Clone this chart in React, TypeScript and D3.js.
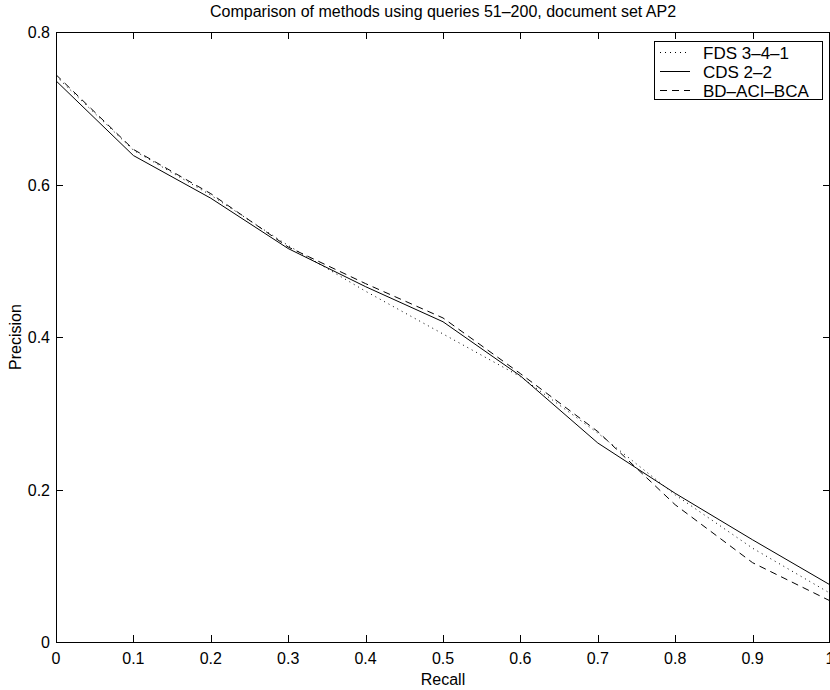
import React, {useEffect, useRef} from 'react'
import * as d3 from 'd3';

const recall = [0, 0.1, 0.2, 0.3, 0.4, 0.5, 0.6, 0.7, 0.8, 0.9, 1.0];
const fds = [0.742, 0.645, 0.586, 0.520, 0.460, 0.404, 0.348, 0.274, 0.193, 0.123, 0.064];
const cds = [0.736, 0.638, 0.582, 0.516, 0.466, 0.420, 0.349, 0.261, 0.195, 0.134, 0.075];
const bd = [0.744, 0.646, 0.588, 0.518, 0.470, 0.425, 0.352, 0.276, 0.180, 0.104, 0.054];
const seriesNames = ['FDS 3\u20134\u20131', 'CDS 2\u20132', 'BD\u2013ACI\u2013BCA'];
const xTicks = [0, 0.1, 0.2, 0.3, 0.4, 0.5, 0.6, 0.7, 0.8, 0.9, 1];
const yTicks = [0, 0.2, 0.4, 0.6, 0.8];

export default function App() {
  const svgRef = useRef<SVGSVGElement>(null);

  useEffect(() => {
    const width = 830;
    const height = 690;
    const left = 56, right = 830, top = 32, bottom = 642;
    const font = '"Liberation Sans", Arial, Helvetica, sans-serif';
    const svg = d3.select(svgRef.current)
        .attr('width', width)
        .attr('height', height)
        .style('background', '#fff');
    svg.selectAll('*').remove();

    // scales
    const x = d3.scaleLinear().domain([0, 1]).range([left, right]);
    const y = d3.scaleLinear().domain([0, 0.8]).range([bottom, top]);

    // frame
    svg.append('rect')
        .attr('x', left + 0.5).attr('y', top + 0.5)
        .attr('width', right - left - 1).attr('height', bottom - top)
        .attr('fill', 'none').attr('stroke', '#000');

    // inward ticks on all four sides
    const tl = 7;
    const g = svg.append('g').attr('stroke', '#000').attr('shape-rendering', 'crispEdges');
    xTicks.forEach(t => {
      const px = Math.round(x(t)) + 0.5;
      g.append('line').attr('x1', px).attr('x2', px).attr('y1', bottom).attr('y2', bottom - tl);
      g.append('line').attr('x1', px).attr('x2', px).attr('y1', top).attr('y2', top + tl);
    });
    yTicks.forEach(t => {
      const py = Math.round(y(t)) + 0.5;
      g.append('line').attr('x1', left).attr('x2', left + tl).attr('y1', py).attr('y2', py);
      g.append('line').attr('x1', right).attr('x2', right - tl).attr('y1', py).attr('y2', py);
    });

    // tick labels
    svg.append('g').selectAll('text').data(xTicks).join('text')
        .attr('x', d => x(d)).attr('y', 664)
        .attr('text-anchor', 'middle')
        .style('font', `16px ${font}`)
        .text(d => d3.format('')(d));
    svg.append('g').selectAll('text').data(yTicks).join('text')
        .attr('x', 50).attr('y', d => y(d) + 6)
        .attr('text-anchor', 'end')
        .style('font', `16px ${font}`)
        .text(d => d3.format('')(d));

    // titles
    svg.append('text')
        .attr('x', (left + right) / 2).attr('y', 17)
        .attr('text-anchor', 'middle')
        .style('font', `16px ${font}`)
        .text('Comparison of methods using queries 51\u2013200, document set AP2');
    svg.append('text')
        .attr('x', (left + right) / 2).attr('y', 685)
        .attr('text-anchor', 'middle')
        .style('font', `16px ${font}`)
        .text('Recall');
    svg.append('text')
        .attr('transform', `translate(21, ${(top + bottom) / 2}) rotate(-90)`)
        .attr('text-anchor', 'middle')
        .style('font', `16px ${font}`)
        .text('Precision');

    // lines
    const dashes = ['1,4', null, '7,5'];
    const allSeries = [fds, cds, bd];
    const line = d3.line<number>()
        .x((d, i) => x(recall[i]))
        .y(d => y(d));
    svg.append('clipPath').attr('id', 'plotclip')
        .append('rect').attr('x', left).attr('y', top).attr('width', right - left).attr('height', bottom - top);
    svg.append('g').attr('clip-path', 'url(#plotclip)')
        .selectAll('path').data(allSeries).join('path')
        .attr('d', d => line(d))
        .attr('fill', 'none')
        .attr('stroke', '#000')
        .attr('stroke-width', 1)
        .attr('stroke-dasharray', (d, i) => dashes[i]);

    // legend
    const lx = 654, ly = 41, lw = 168, lh = 58;
    const leg = svg.append('g');
    leg.append('rect')
        .attr('x', lx + 0.5).attr('y', ly + 0.5).attr('width', lw).attr('height', lh)
        .attr('fill', '#fff').attr('stroke', '#000');
    seriesNames.forEach((name, i) => {
      const ry = ly + 11.5 + i * 19;
      leg.append('line')
          .attr('x1', lx + 6).attr('x2', lx + 36)
          .attr('y1', ry).attr('y2', ry)
          .attr('stroke', '#000')
          .attr('stroke-dasharray', dashes[i]);
      leg.append('text')
          .attr('x', lx + 49).attr('y', ry + 6)
          .style('font', `17px ${font}`)
          .text(name);
    });
  }, []);

  return (
    <svg ref={svgRef} style={{position: 'absolute', left: 0, top: 0}}></svg>
  )
}
